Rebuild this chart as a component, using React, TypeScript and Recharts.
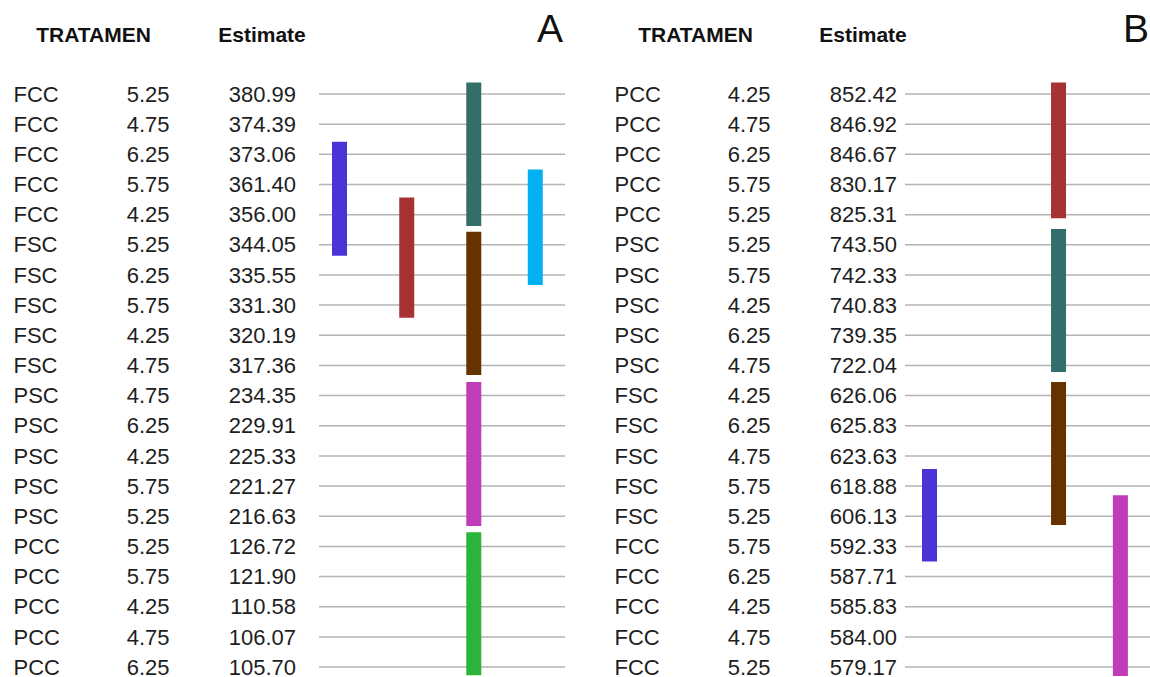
import { ComposedChart, Line, ReferenceLine, XAxis, YAxis } from "recharts";

// Panel A
const namesA = ["FCC", "FCC", "FCC", "FCC", "FCC", "FSC", "FSC", "FSC", "FSC", "FSC", "PSC", "PSC", "PSC", "PSC", "PSC", "PCC", "PCC", "PCC", "PCC", "PCC"];
const dosesA = ["5.25", "4.75", "6.25", "5.75", "4.25", "5.25", "6.25", "5.75", "4.25", "4.75", "4.75", "6.25", "4.25", "5.75", "5.25", "5.25", "5.75", "4.25", "4.75", "6.25"];
const estimatesA = ["380.99", "374.39", "373.06", "361.40", "356.00", "344.05", "335.55", "331.30", "320.19", "317.36", "234.35", "229.91", "225.33", "221.27", "216.63", "126.72", "121.90", "110.58", "106.07", "105.70"];

// grouping bars of panel A (column slot, first row, last row)
const groupColorsA = ["#4a34d6", "#a63232", "#336e6a", "#663300", "#00b0f0", "#c03cb8", "#2bb53b"];
const groupColsA = [1.0, 4.28, 7.55, 7.55, 10.55, 7.55, 7.55];
const groupStartA = [1.58, 3.43, -0.38, 4.57, 2.5, 9.55, 14.53];
const groupEndA = [5.36, 7.42, 4.38, 9.32, 6.33, 14.32, 19.27];

// Panel B
const namesB = ["PCC", "PCC", "PCC", "PCC", "PCC", "PSC", "PSC", "PSC", "PSC", "PSC", "FSC", "FSC", "FSC", "FSC", "FSC", "FCC", "FCC", "FCC", "FCC", "FCC"];
const dosesB = ["4.25", "4.75", "6.25", "5.75", "5.25", "5.25", "5.75", "4.25", "6.25", "4.75", "4.25", "6.25", "4.75", "5.75", "5.25", "5.75", "6.25", "4.25", "4.75", "5.25"];
const estimatesB = ["852.42", "846.92", "846.67", "830.17", "825.31", "743.50", "742.33", "740.83", "739.35", "722.04", "626.06", "625.83", "623.63", "618.88", "606.13", "592.33", "587.71", "585.83", "584.00", "579.17"];

const groupColorsB = ["#a63232", "#336e6a", "#663300", "#4a34d6", "#c03cb8"];
const groupColsB = [7.52, 7.52, 7.52, 1.2, 10.55];
const groupStartB = [-0.38, 4.48, 9.55, 12.43, 13.3];
const groupEndB = [4.12, 9.22, 14.29, 15.5, 19.3];

const rowIndex = namesA.map((_, i) => i);
const FONT = "'Liberation Sans', Arial, sans-serif";
const TEXT = "#1e1e1e";

function makeTick(names: string[], doses: string[], estimates: string[]) {
  return (props: any) => {
    const { y, payload } = props;
    const i = payload.value;
    const ty = y + 7.7;
    return (
      <g fontFamily={FONT} fontSize={22} fill={TEXT}>
        <text x={13.5} y={ty} textAnchor="start">{names[i]}</text>
        <text x={169.5} y={ty} textAnchor="end">{doses[i]}</text>
        <text x={296} y={ty} textAnchor="end">{estimates[i]}</text>
      </g>
    );
  };
}

function Panel(props: {
  names: string[];
  doses: string[];
  estimates: string[];
  colors: string[];
  cols: number[];
  starts: number[];
  ends: number[];
  left: number;
  width: number;
  axisWidth: number;
  rightMargin: number;
}) {
  const { names, doses, estimates, colors, cols, starts, ends } = props;
  return (
    <div style={{ position: "absolute", left: props.left, top: 0 }}>
      <ComposedChart
        width={props.width}
        height={677}
        margin={{ top: 78.9, right: props.rightMargin, bottom: 0.9, left: 0 }}
      >
        <XAxis type="number" dataKey="x" domain={[0, 12]} allowDataOverflow hide />
        <YAxis
          type="number"
          reversed
          domain={[-0.5, 19.3]}
          allowDataOverflow
          ticks={rowIndex}
          interval={0}
          width={props.axisWidth}
          axisLine={false}
          tickLine={false}
          tickSize={0}
          tickMargin={0}
          tick={makeTick(names, doses, estimates)}
        />
        {rowIndex.map((r) => (
          <ReferenceLine key={"g" + r} y={r} stroke="#b4b4b4" strokeWidth={1.5} />
        ))}
        {colors.map((c, k) => (
          <Line
            key={k}
            data={[
              { x: cols[k], y: starts[k] },
              { x: cols[k], y: ends[k] },
            ]}
            dataKey="y"
            type="linear"
            stroke={c}
            strokeWidth={15}
            strokeLinecap="butt"
            dot={false}
            activeDot={false}
            isAnimationActive={false}
          />
        ))}
      </ComposedChart>
    </div>
  );
}

export default function App() {
  return (
    <div
      style={{
        position: "absolute",
        left: 0,
        top: 0,
        width: 1150,
        height: 677,
        overflow: "hidden",
        background: "#fff",
      }}
    >
      <Panel
        names={namesA}
        doses={dosesA}
        estimates={estimatesA}
        colors={groupColorsA}
        cols={groupColsA}
        starts={groupStartA}
        ends={groupEndA}
        left={0}
        width={575}
        axisWidth={319}
        rightMargin={10}
      />
      <Panel
        names={namesB}
        doses={dosesB}
        estimates={estimatesB}
        colors={groupColorsB}
        cols={groupColsB}
        starts={groupStartB}
        ends={groupEndB}
        left={601}
        width={549}
        axisWidth={304}
        rightMargin={0}
      />
      <svg
        width={1150}
        height={677}
        style={{ position: "absolute", left: 0, top: 0, pointerEvents: "none" }}
        fontFamily={FONT}
        fill="#111"
      >
        <text x={93.5} y={42} textAnchor="middle" fontSize={21} fontWeight="bold">TRATAMEN</text>
        <text x={262} y={42} textAnchor="middle" fontSize={21} fontWeight="bold">Estimate</text>
        <text x={537} y={42} fontSize={39}>A</text>
        <text x={695.5} y={42} textAnchor="middle" fontSize={21} fontWeight="bold">TRATAMEN</text>
        <text x={863} y={42} textAnchor="middle" fontSize={21} fontWeight="bold">Estimate</text>
        <text x={1123} y={42} fontSize={39}>B</text>
      </svg>
    </div>
  );
}
